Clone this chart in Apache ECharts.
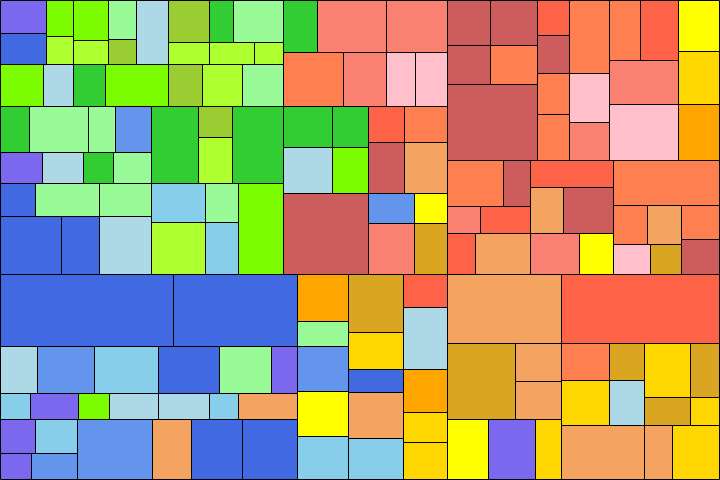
<!DOCTYPE html>
<html>
<head>
<meta charset="utf-8">
<title>Treemap</title>
<script src="https://cdn.jsdelivr.net/npm/echarts@6/dist/echarts.min.js"></script>
<style>
  html, body { margin: 0; padding: 0; background: #fff; }
  #chart { width: 720px; height: 480px; }
</style>
</head>
<body>
<div id="chart"></div>
<script>
// leaf values (area units). nested arrays = groups.
// groups at even depth stack their children top to bottom, odd depth left to right (slice and dice)
const greenBlock = [
  [[1532, 1426], [983, 773], [1411, 840], [1100, 700], 2058, [[1734, 1003, 2128], [902, 983, 645]]],
  [1819, 1260, 1344, 2646, 1428, 1680, 1722],
  [[[1348, 2714, 1242, 1656], [1299, 1259, 921, 1167]], 3605, [1044, 1564], 3912],
  [[[1175, 2131, 1732], [3537, 2193, 3000]], [[2122, 1285], [2792, 1691]], 4122]
]
const redBlock = [
  [1778, 3609, 3190],
  [3240, 2322, 1566, 1728],
  [[[2009, 1476], [2254, 1656]], [[1296, 1548], [1836, 2193]]],
  [6860, [[1380, 990], [2332, 1673]]]
]
const coralBlock = [
  [
    [[[1948, 1677], [2129, 1833]], 6840],
    [1130, 1216, 1312, 1472],
    [2932, 1960, 1520],
    [[1869, 2291], 3036, 3864],
    [2139, 2210, 2335]
  ],
  [
    [[2576, 1228], [891, 1342], [1140, 2226]],
    [2249, [1532, 2300], [2007, 1384]],
    [4802, [[[1316, 1316], [1110, 930]], [1316, 1343]]]
  ]
]
const blueBlock = [
  [12530, 8965],
  [1753, 2679, 3008, 2867, 2444, 1222],
  [788, 1248, 806, 1274, 1326, 754, 1542],
  [[[1200, 1428], [836, 1228]], 4553, 2367, 3096, 3339]
]
const goldColumn1 = [2412, 1275, 2295, 2295, 2229]
const goldColumn2 = [3207, 2035, 1265, 2530, 2294]
const goldColumn3 = [1465, 2728, 1892, 1320, 1659]
const goldBlock = [
  [7900, 10998],
  [
    [[5168, [1748, 1748]], [2489, 2853, 1578]],
    [[[[1776, 1295], [2160, 1575]], [[2484, 1604], [1288, 832]]], [4540, 1532, 2609]]
  ]
]

// leaf colours, in the same order as the leaves above
const greenColors = [
  'mediumslateblue', 'royalblue', 'lawngreen', 'greenyellow', 'lawngreen', 'greenyellow', 'palegreen', 'yellowgreen',
  'lightblue', 'yellowgreen', 'limegreen', 'palegreen', 'greenyellow', 'greenyellow', 'greenyellow',
  'lawngreen', 'lightblue', 'limegreen', 'lawngreen', 'yellowgreen', 'greenyellow', 'palegreen',
  'limegreen', 'palegreen', 'palegreen', 'cornflowerblue', 'mediumslateblue', 'lightblue', 'limegreen', 'palegreen',
  'limegreen', 'yellowgreen', 'greenyellow', 'limegreen',
  'royalblue', 'palegreen', 'palegreen', 'royalblue', 'royalblue', 'lightblue',
  'skyblue', 'palegreen', 'greenyellow', 'skyblue', 'lawngreen'
]
const redColors = [
  'limegreen', 'salmon', 'salmon', 'coral', 'salmon', 'pink', 'pink',
  'limegreen', 'limegreen', 'lightblue', 'lawngreen', 'tomato', 'coral', 'indianred', 'sandybrown',
  'indianred', 'cornflowerblue', 'yellow', 'salmon', 'goldenrod'
]
const coralColors = [
  'indianred', 'indianred', 'indianred', 'coral', 'indianred', 'tomato', 'indianred', 'coral', 'coral',
  'coral', 'pink', 'salmon', 'coral', 'tomato', 'salmon', 'pink', 'yellow', 'gold', 'orange',
  'coral', 'indianred', 'salmon', 'tomato', 'tomato', 'sandybrown',
  'tomato', 'sandybrown', 'indianred', 'salmon', 'yellow',
  'coral', 'coral', 'sandybrown', 'pink', 'goldenrod', 'coral', 'indianred'
]
const blueColors = [
  'royalblue', 'royalblue',
  'lightblue', 'cornflowerblue', 'skyblue', 'royalblue', 'palegreen', 'mediumslateblue',
  'skyblue', 'mediumslateblue', 'lawngreen', 'lightblue', 'lightblue', 'skyblue', 'sandybrown',
  'mediumslateblue', 'skyblue', 'mediumslateblue', 'cornflowerblue', 'cornflowerblue', 'sandybrown', 'royalblue', 'royalblue'
]
const goldColumn1Colors = ['orange', 'palegreen', 'cornflowerblue', 'yellow', 'skyblue']
const goldColumn2Colors = ['goldenrod', 'gold', 'royalblue', 'sandybrown', 'skyblue']
const goldColumn3Colors = ['tomato', 'lightblue', 'orange', 'gold', 'gold']
const goldColors = [
  'sandybrown', 'tomato', 'goldenrod', 'sandybrown', 'sandybrown', 'yellow', 'mediumslateblue', 'gold',
  'coral', 'goldenrod', 'gold', 'lightblue', 'gold', 'goldenrod', 'goldenrod', 'gold',
  'sandybrown', 'sandybrown', 'gold'
]

const tree = [
  [greenBlock, redBlock, coralBlock],
  [blueBlock, goldColumn1, goldColumn2, goldColumn3, goldBlock]
]
const cellColors = [].concat(greenColors, redColors, coralColors, blueColors,
  goldColumn1Colors, goldColumn2Colors, goldColumn3Colors, goldColors)

function total(node) {
  if (typeof node === 'number') return node
  return node.reduce((s, c) => s + total(c), 0)
}

// slice and dice in a 0..1 box, gives [x0, y0, x1, y1] per leaf
function sliceDice(node, x0, y0, x1, y1, depth, out) {
  if (typeof node === 'number') {
    out.push([x0, y0, x1, y1])
    return out
  }
  const sum = total(node)
  let pos = depth % 2 === 0 ? y0 : x0
  node.forEach(child => {
    const part = total(child) / sum
    if (depth % 2 === 0) {
      const next = pos + (y1 - y0) * part
      sliceDice(child, x0, pos, x1, next, depth + 1, out)
      pos = next
    } else {
      const next = pos + (x1 - x0) * part
      sliceDice(child, pos, y0, next, y1, depth + 1, out)
      pos = next
    }
  })
  return out
}

const cells = sliceDice(tree, 0, 0, 1, 1, 0, [])

const chart = echarts.init(document.getElementById('chart'))

chart.setOption({
  animation: false,
  grid: { left: 0, right: 0, top: 0, bottom: 0 },
  xAxis: { type: 'value', min: 0, max: 1, show: false },
  yAxis: { type: 'value', min: 0, max: 1, inverse: true, show: false },
  series: [{
    type: 'custom',
    silent: true,
    clip: false,
    encode: { x: [0, 2], y: [1, 3] },
    data: cells,
    renderItem(params, api) {
      const p0 = api.coord([api.value(0), api.value(1)])
      const p1 = api.coord([api.value(2), api.value(3)])
      const w = api.getWidth()
      const h = api.getHeight()
      // snap to whole pixels so the 1px borders stay crisp
      const x0 = Math.round(p0[0])
      const y0 = Math.round(p0[1])
      const x1 = Math.min(Math.round(p1[0]), w - 1)
      const y1 = Math.min(Math.round(p1[1]), h - 1)
      return {
        type: 'rect',
        shape: { x: x0 + 0.5, y: y0 + 0.5, width: x1 - x0, height: y1 - y0 },
        style: { fill: cellColors[params.dataIndex], stroke: '#000', lineWidth: 1 }
      }
    }
  }]
})
</script>
</body>
</html>
